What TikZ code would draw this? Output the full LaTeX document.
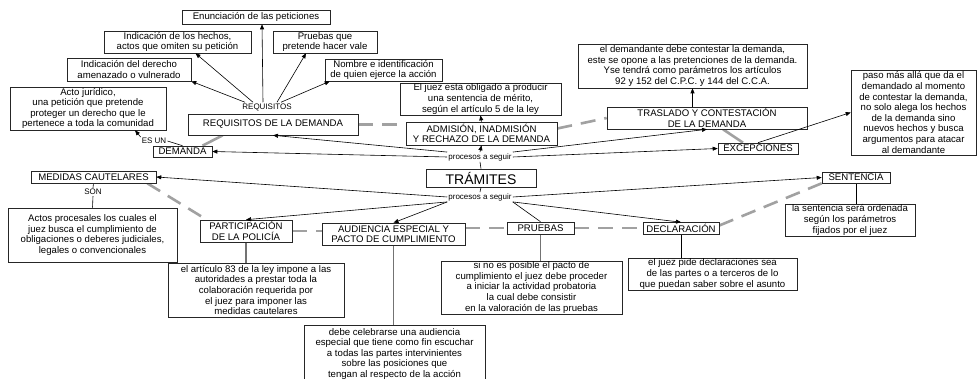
\documentclass[tikz,border=0pt]{standalone}
\usepackage{fontspec}
\setmainfont{Liberation Sans}
\usetikzlibrary{arrows.meta,calc,backgrounds}
\begin{document}
\begin{tikzpicture}[x=1pt,y=-1pt,
  box/.style={draw=black!85, line width=0.6pt, fill=white, align=center, inner sep=1pt, font=\fontsize{9.6}{10.6}\selectfont},
  sz/.style 2 args={minimum width=#1pt, minimum height=#2pt},
  lab/.style={fill=white, inner sep=1pt, font=\fontsize{8}{9}\selectfont},
  arr/.style={draw=black, line width=0.6pt, -{Triangle[length=5pt,width=4pt]}},
  ln/.style={draw=black, line width=0.6pt},
  gdash/.style={draw=black!37, line width=2.6pt, dash pattern=on 15pt off 9pt},
  gsolid/.style={draw=black!37, line width=2.6pt},
  vline/.style={draw=black!55, line width=1.3pt},
]
\useasboundingbox (0,0) rectangle (977,379);

% top requirement boxes
\node[box,sz={148}{14}] (enun) at (256,17) {Enunciación de las peticiones};
\node[box,sz={147}{22}] (hechos) at (177.5,42) {Indicación de los hechos,\\actos que omiten su petición};
\node[box,sz={104}{22}] (pruq) at (325,42) {Pruebas que\\pretende hacer vale};
\node[box,sz={124}{23}] (derecho) at (129,69.5) {Indicación del derecho\\amenazado o vulnerado};
\node[box,sz={117}{22}] (nombre) at (383.5,70) {Nombre e identificación\\de quien ejerce la acción};
\node[box,sz={156}{43}] (acto) at (88,108.5) {Acto jurídico,\\una petición que pretende\\proteger un derecho que le\\pertenece a toda la comunidad};
\node[lab] (reqlab) at (267,107) {REQUISITOS};
\node[box,sz={170}{21}] (reqdem) at (273,124.5) {REQUISITOS DE LA DEMANDA};
\node[lab] (esun) at (154,141) {ES UN};
\node[box,sz={59}{11}] (demanda) at (182.5,151.5) {DEMANDA};

% left lower
\node[box,sz={125}{12}] (medidas) at (93.5,177) {MEDIDAS CAUTELARES};
\node[lab] (son) at (93,192) {SON};
\node[box,sz={169}{54}] (actos) at (92.5,235) {Actos procesales los cuales el\\juez busca el cumplimiento de\\obligaciones o deberes judiciales,\\legales o convencionales};

% lower chain
\node[box,sz={92}{22}] (partic) at (246,231) {PARTICIPACIÓN\\DE LA POLICÍA};
\node[box,sz={143}{22}] (audi) at (393.5,234) {AUDIENCIA ESPECIAL Y\\PACTO DE CUMPLIMIENTO};
\node[box,sz={67}{12}] (pruebas) at (540.5,228) {PRUEBAS};
\node[box,sz={76}{12}] (declar) at (681,228.5) {DECLARACIÓN};
\node[box,sz={68}{11}] (sent) at (856,177.5) {SENTENCIA};
\node[box,sz={130}{32}] (sentd) at (850,220) {la sentencia será ordenada\\según los parámetros\\fijados por el juez};

% right upper
\node[box,sz={125}{85}] (paso) at (913.5,112.5) {paso más allá que da el\\demandado al momento\\de contestar la demanda,\\no solo alega los hechos\\de la demanda sino\\nuevos hechos y busca\\argumentos para atacar\\al demandante};
\node[box,sz={80}{11}] (excep) at (758,148.5) {EXCEPCIONES};
\node[box,sz={200}{22}] (tras) at (707,118) {TRASLADO Y CONTESTACIÓN\\DE LA DEMANDA};
\node[box,sz={229}{44}] (demte) at (692.5,66) {el demandante debe contestar la demanda,\\este se opone a las pretenciones de la demanda.\\Yse tendrá como parámetros los artículos\\92 y 152 del C.P.C. y 144 del C.C.A.};

% center
\node[box,sz={161}{32}] (juez) at (480.5,99) {El juez esta obligado a producir\\una sentencia de mérito,\\según el artículo 5 de la ley};
\node[box,sz={151}{23}] (adm) at (481.5,133.5) {ADMISIÓN, INADMISIÓN\\Y RECHAZO DE LA DEMANDA};
\node[lab] (p1) at (480,157) {procesos a seguir};
\node[box,sz={110}{18},font=\fontsize{14}{16}\selectfont] (tram) at (481,178) {TRÁMITES};
\node[lab] (p2) at (480,197) {procesos a seguir};

% descriptions bottom
\node[box,sz={176}{54}] (art) at (256,290) {el artículo 83 de la ley impone a las\\autoridades a prestar toda la\\colaboración requerida por\\el juez para imponer las\\medidas cautelares};
\node[box,sz={181}{57},anchor=north] (celeb) at (394.5,325) {debe celebrarse una audiencia\\especial que tiene como fin escuchar\\a todas las partes intervinientes\\sobre las posiciones que\\tengan al respecto de la acción};
\node[box,sz={181}{53}] (sino) at (531.5,287.5) {si no es posible el pacto de\\cumplimiento el juez debe proceder\\a iniciar la actividad probatoria\\la cual debe consistir\\en la valoración de las pruebas};
\node[box,sz={169}{32}] (jpide) at (712.5,274) {el juez pide declaraciones sea\\de las partes o a terceros de lo\\que puedan saber sobre el asunto};

\begin{scope}[on background layer]
\fill[white] (0,0) rectangle (977,379);
\draw[gsolid] ($(demanda.north)+(20,0)$) -- ($(reqdem.south west)+(35,0)$);
\draw[gdash] (reqdem.east) -- (reqdem.east -| adm.west);
\draw[gdash] ($(adm.east)+(0,-5)$) -- (tras.west);
\draw[gsolid] ($(tras.south)+(16,0)$) -- ($(excep.north)+(-15,0)$);
\draw[gdash] ($(medidas.south east)+(-9,0)$) -- ($(partic.north west)+(7,0)$);
\draw[gdash] (partic.east) -- (partic.east -| audi.west);
\draw[gdash] (audi.east |- pruebas.west) -- (pruebas.west);
\draw[gdash] (pruebas.east) -- (declar.west |- pruebas.east);
\draw[gdash] ($(declar.east)+(0,-3)$) -- (sent.south west);
\draw[vline] (partic.south) -- (partic.south |- art.north);
\draw[vline] (audi.south) -- (audi.south |- celeb.north);
\draw[vline] (pruebas.south) -- (pruebas.south |- sino.north);
\draw[ln] (declar.south) -- (declar.south |- jpide.north);
\draw[ln] (sent.south) -- (sent.south |- sentd.north);
\draw[ln] (medidas.south) -- (son.north);
\draw[ln] (son.south) -- (actos.north);
\end{scope}

% black connectors
\draw[ln] (tram.north) -- (p1.south);
\draw[arr] (p1.north) -- (adm.south);
\draw[arr] (adm.north) -- (juez.south);
\draw[arr] (p1.north west) -- (reqdem.south);
\draw[arr] (p1.west) -- (demanda.east);
\draw[arr] (p1.north east) -- (tras.south);
\draw[arr] (p1.east) -- (excep.west);
\draw[arr] (tras.north -| demte.south) -- (demte.south);
\draw[arr] (excep.north) -- (paso.west);
\draw[ln] (tram.south) -- (p2.north);
\draw[arr] (p2.west) -- (medidas.east);
\draw[arr] (p2.south west) -- (partic.north);
\draw[arr] (p2.south west) -- (audi.north);
\draw[ln] (p2.south east) -- (pruebas.north);
\draw[arr] (p2.south east) -- (declar.north);
\draw[arr] (p2.east) -- (sent.west);

\draw[arr] ($(reqlab.north)+(-22,0)$) -- (derecho.south east);
\draw[arr] ($(reqlab.north)+(-14,0)$) -- ($(hechos.south)+(18,0)$);
\draw[arr] ($(reqlab.north)+(-4,0)$) -- ($(enun.south)+(6,0)$);
\draw[arr] ($(reqlab.north)+(10,0)$) -- ($(pruq.south)+(-19,0)$);
\draw[arr] ($(reqlab.north)+(14,0)$) -- ($(nombre.south west)+(5,0)$);

\draw[ln] (esun.east) -- (demanda.north);
\draw[arr] (esun.north west) -- ($(acto.south)+(47,0)$);
\end{tikzpicture}
\end{document}
